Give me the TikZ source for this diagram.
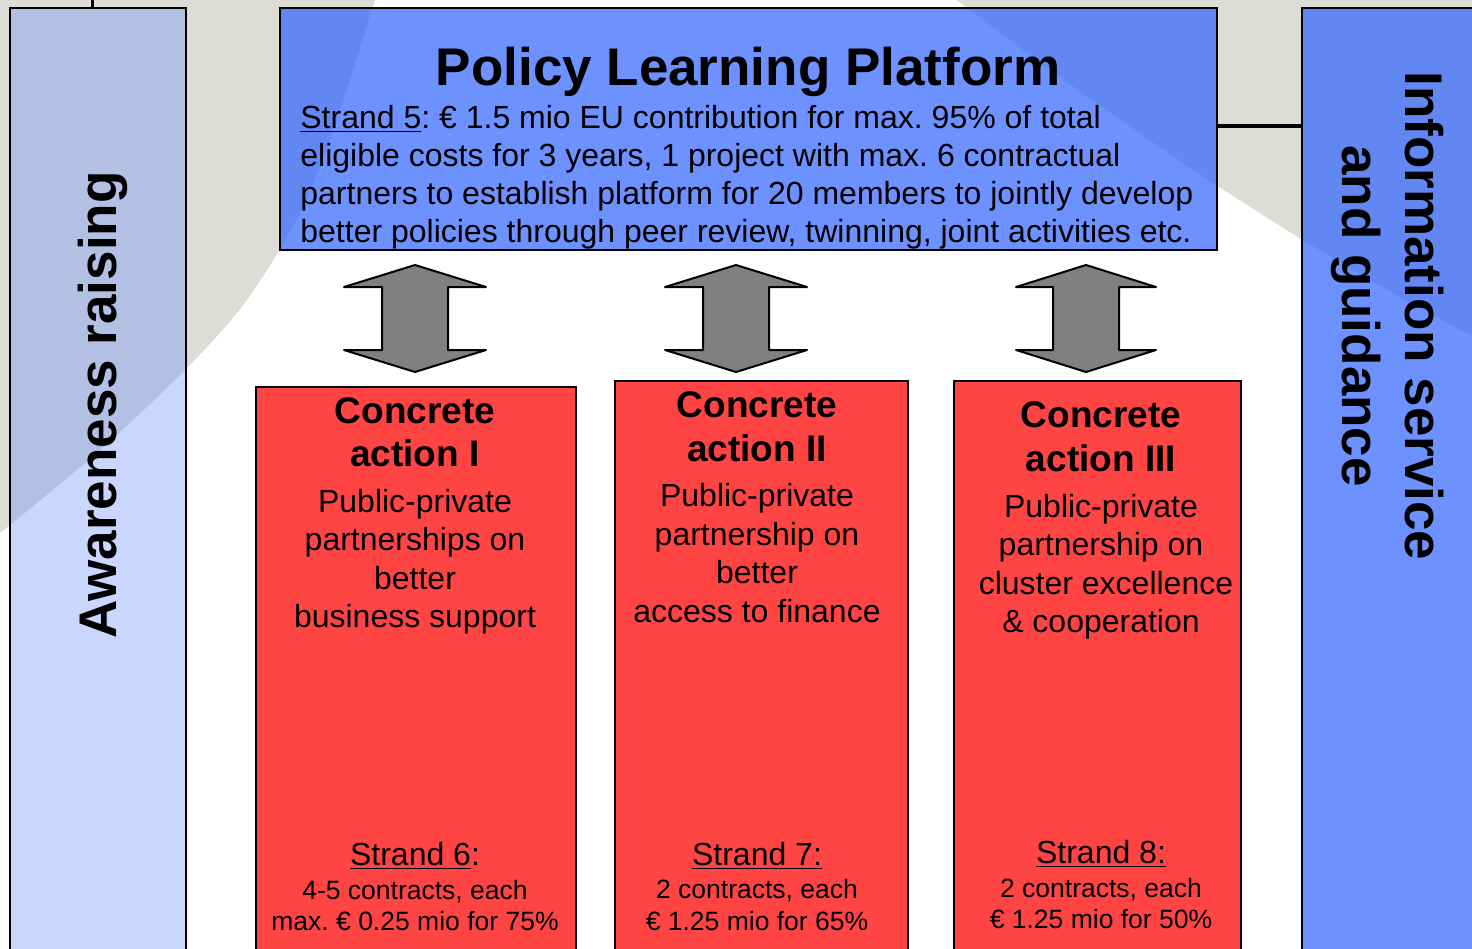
\documentclass[tikz,border=0pt]{standalone}
\usepackage{fontspec}
\setmainfont{Liberation Sans}
\usetikzlibrary{fit}
\frenchspacing
\definecolor{bggray}{RGB}{220,221,214}
\definecolor{awblue}{RGB}{89,133,255}
\definecolor{plblue}{RGB}{48,99,255}
\definecolor{redbox}{RGB}{255,68,68}
\definecolor{arrowgray}{RGB}{128,128,128}
\tikzset{
  awbox/.style={draw=black, line width=0.75pt, fill=awblue, fill opacity=0.32, inner sep=0pt},
  plbox/.style={draw=black, line width=1pt, fill=plblue, fill opacity=0.7, inner sep=0pt},
  actbox/.style={draw=black, line width=1pt, fill=redbox, inner sep=0pt},
  blockarrow/.style={draw=black, line width=1pt, fill=arrowgray, line join=round},
  conn/.style={draw=black, line width=2pt},
  txt/.style={inner sep=0pt, anchor=base},
  big/.style={txt, font=\fontsize{26.5}{31}\selectfont\bfseries},
  body/.style={txt, anchor=base west, font=\fontsize{16}{19}\selectfont},
  head/.style={txt, font=\fontsize{18.5}{22}\selectfont\bfseries},
  desc/.style={txt, font=\fontsize{16}{19}\selectfont},
  small/.style={txt, font=\fontsize{13.25}{16}\selectfont}
}
\begin{document}
\frenchspacing
\begin{tikzpicture}[x=0.5pt,y=-0.5pt]
\useasboundingbox (0,0) rectangle (1472,948);
\clip (0,0) rectangle (1472,948);
% background
\fill[white] (0,0) rectangle (1472,948);
\fill[bggray] plot[smooth] coordinates {(375,0) (335,125) (300,213) (247,300) (185,370) (100,450) (10,525) (-20,548)} -- (-20,-10) -- (375,-10) -- cycle;
\fill[bggray] (950,-5) .. controls (1100,110) and (1300,250) .. (1490,345) -- (1490,-5) -- cycle;

% box corners
\coordinate (a1) at (10,8);    \coordinate (a2) at (186,970);
\coordinate (p1) at (280,8);   \coordinate (p2) at (1217,250);
\coordinate (i1) at (1302,8);  \coordinate (i2) at (1490,970);
\coordinate (r1a) at (256,387); \coordinate (r1b) at (576,970);
\coordinate (r2a) at (615,381); \coordinate (r2b) at (908,970);
\coordinate (r3a) at (954,381); \coordinate (r3b) at (1241,970);

\node[awbox, fit=(a1)(a2)] (aware) {};
\node[plbox, fit=(p1)(p2)] (plat) {};
\node[plbox, fit=(i1)(i2)] (info) {};
\node[actbox, fit=(r1a)(r1b)] (act1) {};
\node[actbox, fit=(r2a)(r2b)] (act2) {};
\node[actbox, fit=(r3a)(r3b)] (act3) {};

% connectors
\coordinate (atop) at (92,-5);
\draw[line width=1.5pt] (atop) -- (atop |- aware.north);
\draw[conn] ([yshift=1.5pt]plat.east) -- ([yshift=1.5pt]plat.east -| info.west);

% block arrows
\foreach \cx/\hw in {415/71, 736/71, 1086/70}{
  \draw[blockarrow, shift={(\cx,0)}] (0,265) -- (\hw,287) -- (33,287) -- (33,350) -- (\hw,350) -- (0,372)
     -- (-\hw,350) -- (-33,350) -- (-33,287) -- (-\hw,287) -- cycle;
}

% side texts
\node[big, rotate=90] (awt) at (116,405) {Awareness raising};
\node[big, rotate=-90] (inft1) at (1405,316) {Information service};
\node[big, rotate=-90] (inft2) at (1342,316) {and guidance};

% platform
\node[big] (plt) at (748,85) {Policy Learning Platform};
\node[body] (pl1) at (300,128) {\underline{Strand 5}: € 1.5 mio EU contribution for max. 95\% of total};
\node[body] (pl2) at (300,166) {eligible costs for 3 years, 1 project with max. 6 contractual};
\node[body] (pl3) at (300,204) {partners to establish platform for 20 members to jointly develop};
\node[body] (pl4) at (300,242) {better policies through peer review, twinning, joint activities etc.};

% action I
\node[head] (c1a) at (415,423) {Concrete};
\node[head] (c1b) at (415,466) {action I};
\node[desc] (c1c) at (415,512) {Public-private};
\node[desc] (c1d) at (415,550) {partnerships on};
\node[desc] (c1e) at (415,589) {better};
\node[desc] (c1f) at (415,627) {business support};
\node[desc] (s6a) at (415,865) {\underline{Strand 6}:};
\node[small] (s6b) at (415,899) {4-5 contracts, each};
\node[small] (s6c) at (415,930) {max. € 0.25 mio for 75\%};

% action II
\node[head] (c2a) at (757,417) {Concrete};
\node[head] (c2b) at (757,461) {action II};
\node[desc] (c2c) at (757,506) {Public-private};
\node[desc] (c2d) at (757,545) {partnership on};
\node[desc] (c2e) at (757,583) {better};
\node[desc] (c2f) at (757,622) {access to finance};
\node[desc] (s7a) at (757,865) {\underline{Strand 7:}};
\node[small] (s7b) at (757,898) {2 contracts, each};
\node[small] (s7c) at (757,930) {€ 1.25 mio for 65\%};

% action III
\node[head] (c3a) at (1101,427) {Concrete};
\node[head] (c3b) at (1101,471) {action III};
\node[desc] (c3c) at (1101,517) {Public-private};
\node[desc] (c3d) at (1101,555) {partnership on};
\node[desc] (c3e) at (1106,594) {cluster excellence};
\node[desc] (c3f) at (1101,632) {\& cooperation};
\node[desc] (s8a) at (1101,863) {\underline{Strand 8:}};
\node[small] (s8b) at (1101,897) {2 contracts, each};
\node[small] (s8c) at (1101,928) {€ 1.25 mio for 50\%};
\end{tikzpicture}
\end{document}
